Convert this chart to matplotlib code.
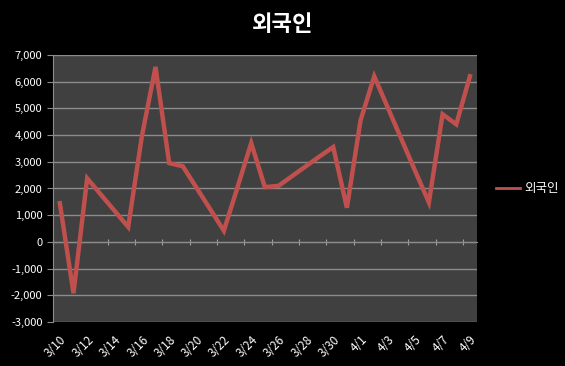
import numpy as np
import matplotlib.pyplot as plt

plt.rcParams['font.family'] = ['Noto Sans CJK KR', 'DejaVu Sans']

# day slots 3/10 .. 4/9 (2010)
days = ['3/10', '3/11', '3/12', '3/13', '3/14', '3/15', '3/16', '3/17', '3/18', '3/19',
        '3/20', '3/21', '3/22', '3/23', '3/24', '3/25', '3/26', '3/27', '3/28', '3/29',
        '3/30', '3/31', '4/1', '4/2', '4/3', '4/4', '4/5', '4/6', '4/7', '4/8', '4/9']

# trading days and net values
trade_days = ['3/10', '3/11', '3/12', '3/15', '3/16', '3/17', '3/18', '3/19', '3/22', '3/23',
              '3/24', '3/25', '3/26', '3/29', '3/30', '3/31', '4/1', '4/2', '4/5', '4/6',
              '4/7', '4/8', '4/9']
foreign = [1450, -1920, 2380, 560, 3950, 6550, 2950, 2830, 420, 2050,
           3700, 2050, 2100, 3200, 3550, 1280, 4550, 6200, 2650, 1480,
           4780, 4400, 6200]

x = [days.index(d) for d in trade_days]

fig = plt.figure(figsize=(5.65, 3.66), dpi=100, facecolor='black')
ax = fig.add_axes([0.0938, 0.12, 0.75, 0.73])
ax.set_facecolor('#404040')

ax.plot(x, foreign, color='#c0504d', lw=3.2, solid_joinstyle='miter', label='외국인', zorder=3)

ax.set_xlim(-0.5, len(days) - 0.5)
ax.set_ylim(-3000, 7000)
ax.set_yticks(np.arange(-3000, 7001, 1000))
ax.set_yticklabels([f'{v:,}' for v in range(-3000, 7001, 1000)])
ax.yaxis.grid(True, color='#8c8c8c', lw=1)
ax.set_axisbelow(True)

ax.set_xticks(range(0, len(days), 2))
ax.set_xticklabels(days[::2], rotation=45, ha='right', rotation_mode='anchor')
ax.tick_params(axis='x', length=0, colors='white', labelsize=8.5, pad=8)
ax.tick_params(axis='y', length=4, color='#8c8c8c', colors='white', labelsize=8)

for s in ['top', 'right', 'bottom']:
    ax.spines[s].set_visible(False)
ax.spines['left'].set_color('#8c8c8c')

# horizontal axis line at zero with tick marks between day slots
zx = ax.secondary_xaxis(0, transform=ax.transData)
zx.set_xticks(np.arange(-0.5, len(days), 2))
zx.tick_params(axis='x', direction='inout', length=4, color='#a0a0a0', labelbottom=False)
zx.spines['bottom'].set_color('#8c8c8c')

fig.suptitle('외국인', color='white', fontsize=16, fontweight='bold', y=0.965)

leg = ax.legend(loc='center left', bbox_to_anchor=(1.02, 0.5), frameon=False,
                fontsize=9, handlelength=1.9, handletextpad=0.3)
for t in leg.get_texts():
    t.set_color('white')
for h in leg.get_lines():
    h.set_linewidth(2)

fig.savefig('out.png', dpi=100, facecolor='black')
